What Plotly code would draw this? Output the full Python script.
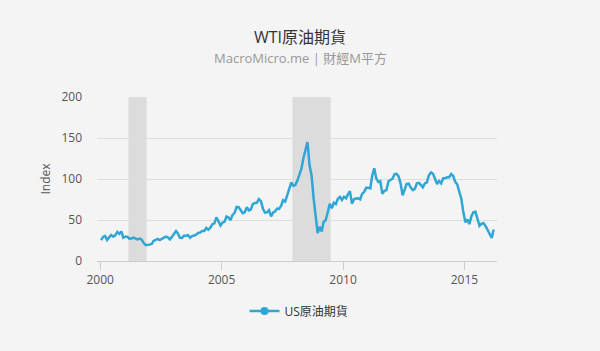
import plotly.graph_objects as go
import pandas as pd

# Monthly WTI values, Jan 2000 .. Mar 2016
wti_values = [
    # 2000
    25.5, 29.4, 30.5, 25.7, 28.8, 31.8, 29.7, 31.3, 35.5, 33.1, 36.0, 28.4,
    # 2001
    29.6, 29.6, 27.2, 27.4, 28.6, 27.6, 26.4, 27.4, 26.2, 22.2, 19.6, 19.4,
    # 2002
    19.7, 20.7, 24.5, 26.2, 27.0, 25.5, 26.9, 28.4, 29.7, 28.9, 26.3, 29.4,
    # 2003
    32.9, 36.5, 33.5, 28.3, 28.1, 30.7, 30.8, 31.6, 28.3, 30.3, 31.1, 32.1,
    # 2004
    34.3, 34.7, 36.7, 36.7, 40.3, 38.0, 40.7, 44.9, 45.9, 53.1, 48.5, 43.3,
    # 2005
    46.8, 48.0, 54.3, 53.0, 49.8, 56.3, 58.7, 66.0, 65.6, 62.4, 58.3, 59.4,
    # 2006
    65.5, 61.6, 62.7, 69.4, 70.8, 70.9, 75.5, 73.0, 63.8, 58.9, 59.4, 62.0,
    # 2007
    54.5, 59.3, 60.4, 63.9, 63.5, 67.5, 74.1, 72.4, 79.9, 87.0, 96.0, 91.7,
    # 2008
    93.0, 98.0, 105.5, 112.6, 125.4, 134.0, 145.0, 116.7, 104.1, 76.6, 55.0, 34.0,
    # 2009
    41.7, 36.0, 48.0, 49.8, 59.2, 69.7, 64.3, 71.1, 69.5, 75.8, 78.1, 74.5,
    # 2010
    78.3, 76.4, 81.2, 85.0, 70.0, 75.3, 76.3, 76.6, 75.2, 81.9, 84.3, 89.2,
    # 2011
    89.2, 88.6, 104.0, 113.0, 100.9, 96.3, 97.3, 82.0, 85.5, 86.3, 97.2, 98.6,
    # 2012
    100.3, 106.0, 106.2, 103.3, 94.7, 80.0, 87.9, 94.1, 94.5, 89.5, 86.5, 87.9,
    # 2013
    94.8, 95.3, 92.9, 90.0, 94.5, 95.8, 104.6, 108.0, 106.3, 100.5, 93.9, 97.6,
    # 2014
    94.6, 100.8, 100.8, 102.1, 102.2, 106.0, 103.6, 96.5, 93.2, 84.4, 75.8, 59.3,
    # 2015
    47.2, 50.6, 45.0, 54.5, 59.3, 60.0, 50.9, 42.9, 45.5, 46.2, 42.4, 37.2,
    # 2016
    31.7, 28.0, 38.5,
]
wti_dates = pd.date_range("2000-01-01", periods=len(wti_values), freq="MS") + pd.Timedelta(days=14)

recession_starts = ["2001-03-01", "2007-12-01"]
recession_ends = ["2001-11-30", "2009-06-30"]

title_text = "WTI原油期貨"
subtitle_text = "MacroMicro.me | 財經M平方"
series_name = "US原油期貨"
y_title = "Index"

FONT = "Open Sans, Noto Sans CJK TC, sans-serif"
LINE_COLOR = "#2ea6d6"

fig = go.Figure()
fig.add_trace(go.Scatter(
    x=wti_dates, y=wti_values, mode="lines", name=series_name,
    line=dict(color=LINE_COLOR, width=2.5),
    showlegend=False,
))
# legend entry showing line+marker symbol
fig.add_trace(go.Scatter(
    x=[None], y=[None], mode="lines+markers", name=series_name,
    line=dict(color=LINE_COLOR, width=2.5),
    marker=dict(color=LINE_COLOR, size=8),
))

for s, e in zip(recession_starts, recession_ends):
    fig.add_vrect(x0=s, x1=e, fillcolor="#dcdcdc", opacity=1, line_width=0, layer="below")

fig.update_layout(
    width=600, height=351,
    paper_bgcolor="#f4f4f4", plot_bgcolor="#f4f4f4",
    margin=dict(l=97, r=103, t=97, b=90),
    font=dict(family=FONT, color="#555555", size=12),
    showlegend=True,
    legend=dict(orientation="h", x=0.505, xanchor="center", y=-0.305, yanchor="middle",
                itemwidth=30,
                font=dict(size=12, color="#333333"), bgcolor="rgba(0,0,0,0)"),
    xaxis=dict(
        type="date",
        range=["1999-11-15", "2016-05-04"],
        tickvals=["2000-01-01", "2005-01-01", "2010-01-01", "2015-01-01"],
        ticktext=["2000", "2005", "2010", "2015"],
        showgrid=False, zeroline=False,
        showline=True, linecolor="#cccccc", linewidth=1,
        ticks="outside", ticklen=8, tickcolor="#cccccc",
        tickfont=dict(size=12, color="#555555"),
    ),
    yaxis=dict(
        range=[0, 200], tickvals=[0, 50, 100, 150, 200],
        showgrid=True, gridcolor="#dddddd", gridwidth=1,
        zeroline=False, showline=False,
        ticks="", ticklabelstandoff=14,
        tickfont=dict(size=12, color="#555555"),
        title=dict(text=y_title, font=dict(size=12, color="#555555"), standoff=8),
    ),
    annotations=[
        dict(text=title_text, x=0.5075, y=37, xref="paper", yref="paper", showarrow=False,
             font=dict(size=16, color="#333333")),
        dict(text=subtitle_text, x=0.5075, y=58, xref="paper", yref="paper", showarrow=False,
             font=dict(size=13, color="#999999")),
    ],
)
# convert pixel y for annotations to paper coords
ph = 351 - 97 - 90
for a in fig.layout.annotations:
    py = a.y
    a.y = (351 - 90 - py) / ph
    a.yanchor = "middle"

fig.write_html("out.html")
